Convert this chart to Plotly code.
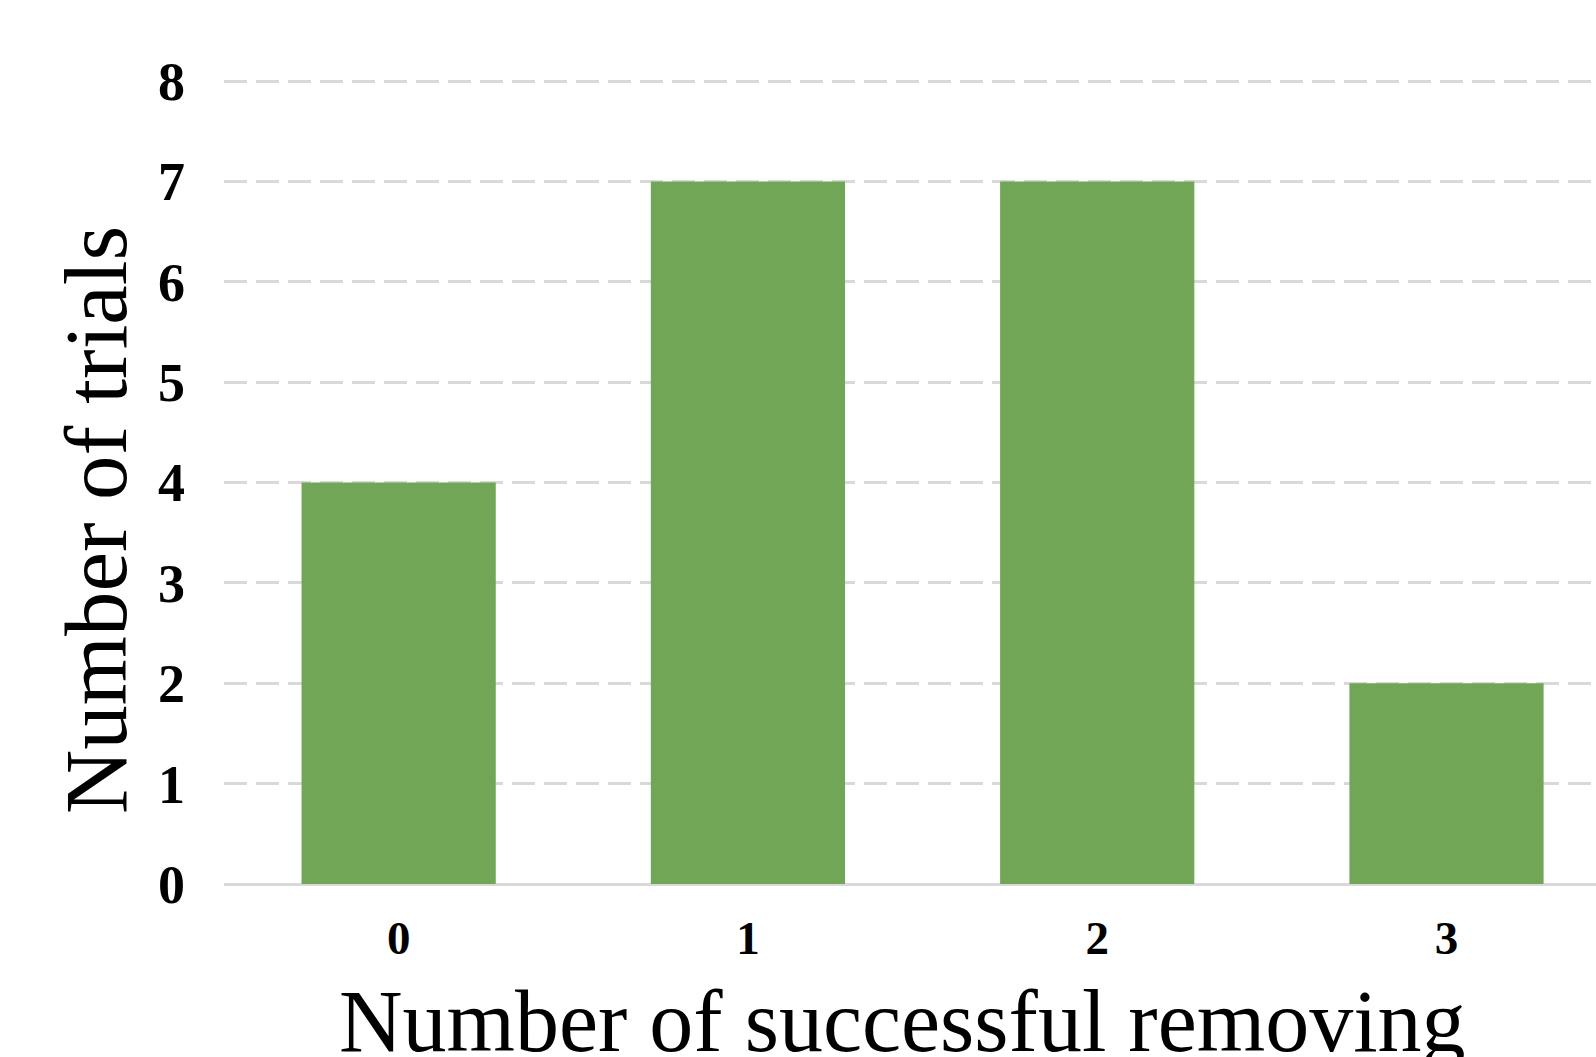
import plotly.graph_objects as go

categories = ["0", "1", "2", "3"]
trials = [4, 7, 7, 2]
y_ticks = [0, 1, 2, 3, 4, 5, 6, 7, 8]

W, H = 1596, 1057
L, R, T, B = 224, 0, 76, 173

fig = go.Figure()
fig.add_trace(go.Bar(
    x=categories, y=trials,
    marker=dict(color="#71a657", line=dict(width=0)),
    width=0.556,
))

fig.update_layout(
    width=W, height=H,
    margin=dict(l=L, r=R, t=T, b=B, pad=0),
    plot_bgcolor="white", paper_bgcolor="white",
    showlegend=False,
    font=dict(family="Liberation Serif", color="black"),
    xaxis=dict(
        type="category",
        range=[-0.5, 3.428],
        showgrid=False,
        showline=False,
        ticks="",
        tickfont=dict(family="Liberation Serif", size=47, color="black", weight="bold"),
        ticklabelstandoff=22,
    ),
    yaxis=dict(
        range=[0, 8.05],
        tickvals=y_ticks,
        ticktext=[str(v) for v in y_ticks],
        showgrid=True,
        gridcolor="#d9d9d9",
        gridwidth=2.5,
        griddash="23px,9px",
        zeroline=True,
        zerolinecolor="#d9d9d9",
        zerolinewidth=3,
        showline=False,
        ticks="",
        tickfont=dict(family="Liberation Serif", size=54, color="black", weight="bold"),
        ticklabelstandoff=38,
    ),
    annotations=[
        dict(
            text="Number of successful removing",
            xref="paper", yref="paper",
            x=(902 - L) / (W - L - R), y=0,
            yshift=-(1048 - 884) - 24,
            xanchor="center", yanchor="bottom",
            showarrow=False,
            font=dict(family="Liberation Serif", size=88, color="black"),
        ),
        dict(
            text="Number of trials",
            textangle=-90,
            xref="paper", yref="paper",
            x=0, xshift=-(L - 63) - 18,
            y=1 - (520 - T) / (H - T - B),
            xanchor="left", yanchor="middle",
            showarrow=False,
            font=dict(family="Liberation Serif", size=89, color="black"),
        ),
    ],
)

fig.write_html("out.html")
